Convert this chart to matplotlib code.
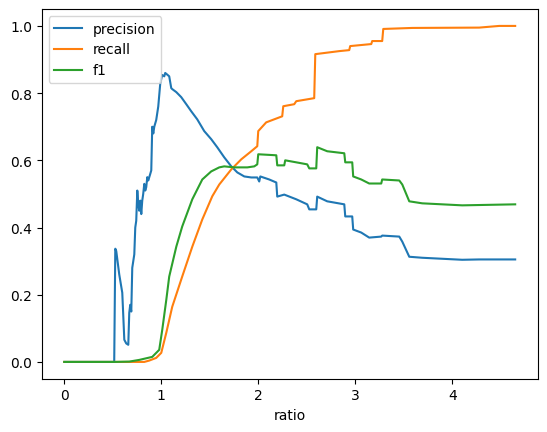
import matplotlib
matplotlib.use("Agg")
import matplotlib.pyplot as plt

# values
prec_x = [0.0, 0.515, 0.526, 0.536, 0.567, 0.598, 0.608, 0.619, 0.639, 0.660,
          0.670, 0.680, 0.691, 0.701, 0.722, 0.732, 0.742, 0.753, 0.763, 0.773,
          0.784, 0.794, 0.804, 0.814, 0.825, 0.835, 0.845, 0.856, 0.866, 0.887,
          0.897, 0.907, 0.918, 0.928, 0.948, 0.969, 0.990, 1.010, 1.031, 1.041,
          1.062, 1.082, 1.103, 1.113, 1.155, 1.206, 1.258, 1.309, 1.371, 1.443,
          1.515, 1.577, 1.649, 1.722, 1.784, 1.856, 1.928, 1.990,
          2.010, 2.021, 2.113, 2.186, 2.196, 2.268, 2.392, 2.505, 2.526, 2.598,
          2.608, 2.711, 2.887, 2.897, 2.969, 2.979, 3.062, 3.144, 3.268, 3.278,
          3.454, 3.485, 3.557, 3.691, 4.103, 4.278, 4.649]
prec_y = [0.0, 0.0, 0.337, 0.330, 0.260, 0.206, 0.140, 0.066, 0.055, 0.051,
          0.146, 0.170, 0.150, 0.280, 0.320, 0.400, 0.420, 0.510, 0.470, 0.450,
          0.480, 0.440, 0.480, 0.500, 0.530, 0.510, 0.520, 0.550, 0.540, 0.560,
          0.570, 0.700, 0.680, 0.700, 0.720, 0.760, 0.830, 0.854, 0.850, 0.860,
          0.855, 0.850, 0.815, 0.812, 0.803, 0.788, 0.767, 0.746, 0.722, 0.687,
          0.663, 0.639, 0.609, 0.582, 0.564, 0.552, 0.549, 0.549,
          0.537, 0.552, 0.543, 0.534, 0.492, 0.498, 0.484, 0.469, 0.454, 0.454,
          0.492, 0.478, 0.469, 0.433, 0.433, 0.394, 0.385, 0.370, 0.373, 0.376,
          0.373, 0.358, 0.313, 0.310, 0.304, 0.305, 0.305]

rec_x = [0.0, 0.515, 0.825, 0.876, 0.948, 1.000, 1.052, 1.113, 1.216, 1.320,
         1.423, 1.526, 1.598, 1.722, 1.825, 1.928, 1.990, 2.000, 2.082, 2.247,
         2.258, 2.371, 2.392, 2.577, 2.588, 2.835, 2.938, 2.948, 3.165, 3.175,
         3.278, 3.289, 3.588, 4.278, 4.485, 4.649]
rec_y = [0.0, 0.0, 0.0, 0.004, 0.012, 0.027, 0.087, 0.164, 0.254, 0.343,
         0.424, 0.493, 0.528, 0.573, 0.603, 0.627, 0.642, 0.687, 0.713, 0.731,
         0.761, 0.767, 0.776, 0.785, 0.916, 0.925, 0.928, 0.940, 0.946, 0.955,
         0.955, 0.991, 0.994, 0.995, 1.000, 1.000]

f1_x = [0.0, 0.515, 0.670, 0.773, 0.907, 0.979, 1.010, 1.052, 1.082, 1.155,
        1.216, 1.320, 1.423, 1.515, 1.598, 1.649, 1.753, 1.887, 1.959, 1.990,
        2.000, 2.186, 2.196, 2.268, 2.278,
        2.392, 2.505, 2.526, 2.598, 2.608, 2.711, 2.887, 2.897, 2.969, 2.979,
        3.062, 3.144, 3.268, 3.278, 3.454, 3.485, 3.557, 3.691, 4.103, 4.649]
f1_y = [0.0, 0.0, 0.001, 0.006, 0.015, 0.036, 0.095, 0.185, 0.254, 0.343,
        0.403, 0.484, 0.543, 0.567, 0.579, 0.582, 0.579, 0.579, 0.582, 0.588,
        0.618, 0.615, 0.585, 0.585, 0.600,
        0.594, 0.588, 0.576, 0.576, 0.639, 0.627, 0.621, 0.594, 0.594, 0.552,
        0.543, 0.531, 0.531, 0.543, 0.540, 0.528, 0.478, 0.472, 0.466, 0.469]

fig, ax = plt.subplots(figsize=(6.4, 4.8), dpi=100)
ax.plot(prec_x, prec_y, label="precision")
ax.plot(rec_x, rec_y, label="recall")
ax.plot(f1_x, f1_y, label="f1")
ax.set_xlabel("ratio")
ax.legend(loc="upper left")
plt.savefig("out.png", bbox_inches="tight")
